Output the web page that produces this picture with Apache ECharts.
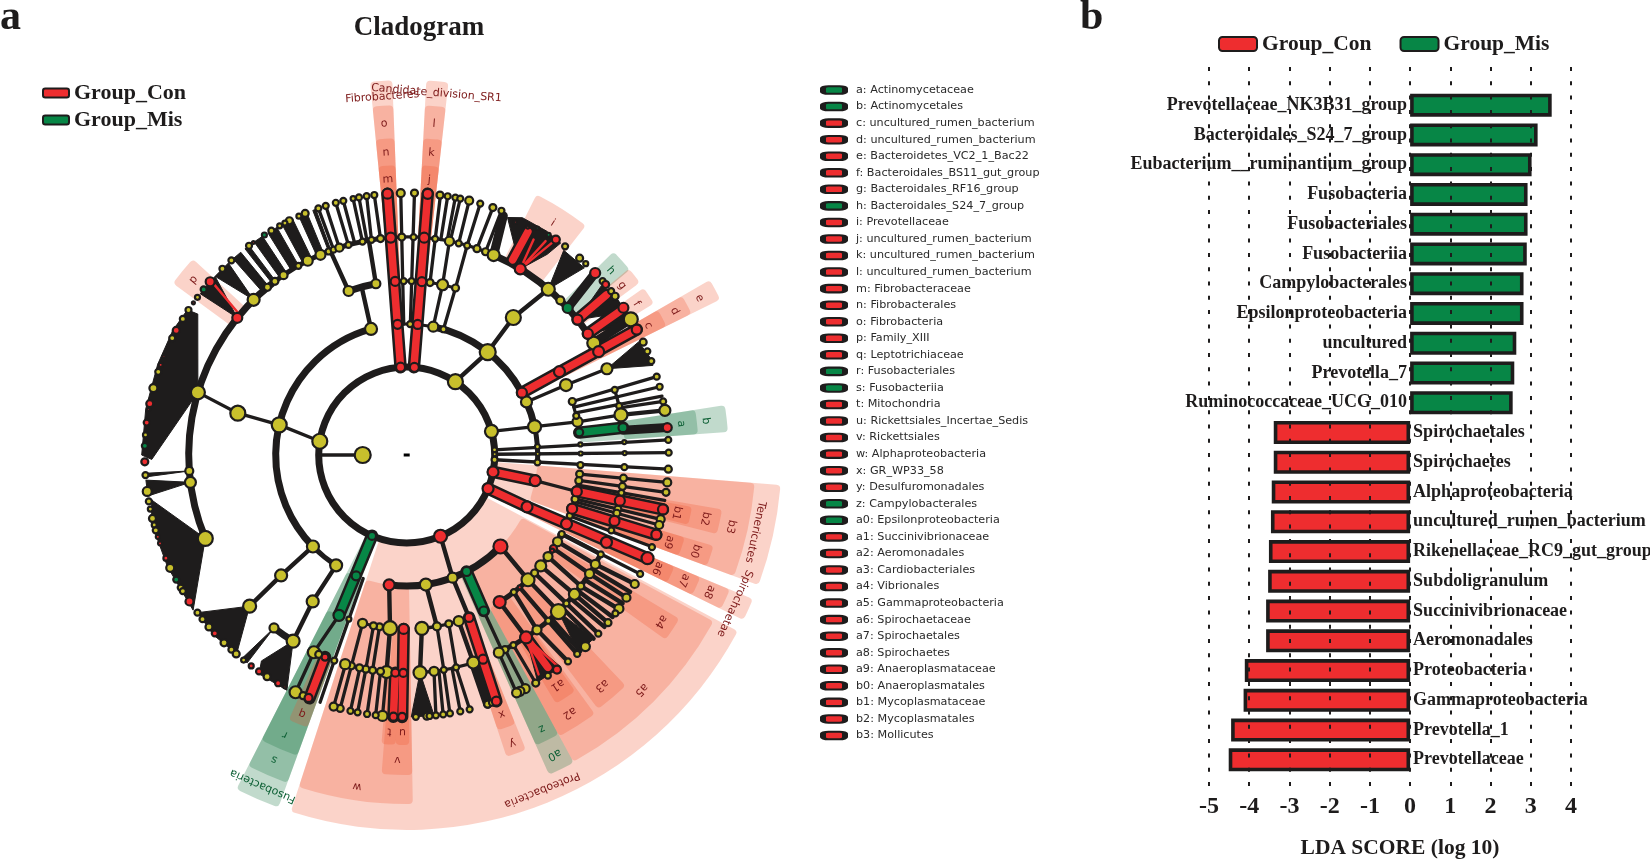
<!DOCTYPE html>
<html><head><meta charset="utf-8">
<style>html,body{margin:0;padding:0;background:#fff}#c{width:1650px;height:860px}</style>
<script src="https://cdn.jsdelivr.net/npm/echarts@6/dist/echarts.min.js"></script>
</head><body><div id="c"></div>
<script>
// ---------- panel b : LDA scores ----------
const misTaxa = ['Prevotellaceae_NK3B31_group','Bacteroidales_S24_7_group','Eubacterium__ruminantium_group','Fusobacteria','Fusobacteriales','Fusobacteriia','Campylobacterales','Epsilonproteobacteria','uncultured','Prevotella_7','Ruminococcaceae_UCG_010'];
const misScores = [3.52,3.17,3.02,2.92,2.92,2.9,2.82,2.82,2.64,2.59,2.55];
const conTaxa = ['Spirochaetales','Spirochaetes','Alphaproteobacteria','uncultured_rumen_bacterium','Rikenellaceae_RC9_gut_group','Subdoligranulum','Succinivibrionaceae','Aeromonadales','Proteobacteria','Gammaproteobacteria','Prevotella_1','Prevotellaceae'];
const conScores = [-3.39,-3.39,-3.44,-3.46,-3.51,-3.53,-3.58,-3.58,-4.11,-4.14,-4.45,-4.51];
const ldaTicks = [-5,-4,-3,-2,-1,0,1,2,3,4];

// ---------- panel a : clade key ----------
const cladeKey = ['a: Actinomycetaceae','b: Actinomycetales','c: uncultured_rumen_bacterium','d: uncultured_rumen_bacterium','e: Bacteroidetes_VC2_1_Bac22','f: Bacteroidales_BS11_gut_group','g: Bacteroidales_RF16_group','h: Bacteroidales_S24_7_group','i: Prevotellaceae','j: uncultured_rumen_bacterium','k: uncultured_rumen_bacterium','l: uncultured_rumen_bacterium','m: Fibrobacteraceae','n: Fibrobacterales','o: Fibrobacteria','p: Family_XIII','q: Leptotrichiaceae','r: Fusobacteriales','s: Fusobacteriia','t: Mitochondria','u: Rickettsiales_Incertae_Sedis','v: Rickettsiales','w: Alphaproteobacteria','x: GR_WP33_58','y: Desulfuromonadales','z: Campylobacterales','a0: Epsilonproteobacteria','a1: Succinivibrionaceae','a2: Aeromonadales','a3: Cardiobacteriales','a4: Vibrionales','a5: Gammaproteobacteria','a6: Spirochaetaceae','a7: Spirochaetales','a8: Spirochaetes','a9: Anaeroplasmataceae','b0: Anaeroplasmatales','b1: Mycoplasmataceae','b2: Mycoplasmatales','b3: Mollicutes'];
const misKeys = ['a','b','h','r','s','z','a0'];

// ---------- panel a : cladogram, all rows in [angle deg, radius] ----------
// wedges: label, angle from, angle to, radius from, radius to, group, label radius
const wedges = [
['Fibrobacteres',92.2,95.6,88,375,'Con',359],['o',92.2,95.6,131,350,'Con',332],['n',92.2,95.6,174,317,'Con',303],['m',92.2,95.6,218,290,'Con',276],
['Candidate_division_SR1',83.6,87,88,375,'Con',363],['l',83.6,87,131,350,'Con',332],['k',83.6,87,174,317,'Con',303],['j',83.6,87,218,290,'Con',276],
['i',52,63.5,218,291,'Con',274],['h',39.7,44.5,218,290,'Mis',275],['g',36.5,40,218,290,'Con',274],['f',31.5,35.2,218,290,'Con',275],
['e',26.4,30,131,350,'Con',332],['d',26.4,30,174,318,'Con',304],['c',26.4,30,218,290,'Con',274],
['a',4.1,8.9,218,292,'Mis',276],['b',4.1,8.9,174,322,'Mis',301],
['Tenericutes',-20.3,-4.6,88,375,'Con',357],['b3',-20.3,-4.6,131,349,'Con',332],['b2',-14.3,-9.8,174,320,'Con',305],['b1',-13.9,-10.3,218,290,'Con',276],['b0',-20.3,-16.5,174,320,'Con',304],['a9',-20.3,-16.5,218,290,'Con',276],
['Spirochaetae',-26.1,-22.6,88,375,'Con',360],['a8',-26.1,-22.6,131,350,'Con',332],['a7',-26.1,-22.6,174,318,'Con',304],['a6',-26.1,-22.6,218,290,'Con',275],
['Proteobacteria',-108,-28,88,375,'Con',361],['a5',-61.5,-28.5,131,349,'Con',332],['w',-108,-89,131,349,'Con',335],['v',-94.5,-89,174,320,'Con',305],['t',-95,-92.2,218,290,'Con',277],['u',-92.2,-89.5,218,290,'Con',277],
['y',-71.7,-68,174,318,'Con',307],['x',-71.7,-68,218,290,'Con',276],['a0',-66,-61.5,131,350,'Mis',334],['z',-66,-61.5,174,318,'Mis',305],
['a2',-61.5,-54,174,320,'Con',305],['a1',-59,-54.5,218,290,'Con',275],['a3',-53,-46.5,174,318,'Con',302],['a4',-35.5,-31,174,318,'Con',304],
['Fusobacteria',-117,-110,88,375,'Mis',361],['s',-117,-110,131,349,'Mis',332],['r',-117,-110,174,320,'Mis',305],['q',-114,-110,218,290,'Con',279],
['p',137.5,143.7,218,290,'Con',276]
];
const arcsThick = [[88,0,360],[131,105.8,224.3],[131,28.4,78.3],[131,12.5,23.9],[131,-97.7,-44.3],[218,128,202.5],[218,28.3,66.5],[218,232.5,238.6],[174,100.2,109.5]];
const arcsMid = [[131,224.3,237.4],[131,-4,12.5],[218,96.9,128],[174,-57.7,-27],[218,-65,-27],[174,-18,-6]];
const arcsThin = [[131,78.3,94],[174,73.7,94],[218,66.5,96.9],[174,7.5,17.9],[218,7.2,17.4],[218,-10,-6],[218,-18,-12],[174,-85,-69],[218,-86.5,-69.5],[174,-104.7,-91],[218,-106.4,-90.9]];
const edgesThin = [[180,44,180,88],[171,88,166.7,131],[15.6,88,12.5,131],[166.7,131,166.1,174],[166.1,174,163.3,218],[23.9,131,23.7,174],[23.7,174,23.3,218],[12.5,131,11,174],
[78.3,131,78.1,174],[78.1,174,78.7,218],[73.7,131,73.7,174],[73.7,174,73.9,218],[3.4,88,3.3,262],[0.5,88,0.5,262],[-3.1,88,-3.1,262],
[17.9,174,17.4,262],[16,174,15.1,262],[14,174,13,262],[11,174,10.6,218],[12.5,218,11.8,262],
[91.3,131,91.3,262],[88.4,131,88.3,262],[82.3,174,82.6,262],[81,218,81,262],[79.3,218,79.3,262],[78.5,218,78.2,262],[76.2,218,76.2,262],[73.9,218,73.7,262],[71.2,218,70.8,262],[68.8,218,68.8,262],
[96.9,218,97.1,262],[99.3,218,98.8,262],[100.5,218,100.5,262],[101.7,218,101.8,262],[103.8,218,104,262],[105.5,218,105.7,262],[108,218,108,262],[109.6,218,109.7,262],
[-11.3,131,-12.1,174],[-6.3,174,-6,262],[-8.4,174,-8.2,262],[-10,174,-10,262],[-14.6,174,-14.2,262],[-15.5,174,-15.5,262],[-20.5,174,-20.5,262],[-27,174,-27,262],
[-109.4,131,-109.4,218],[-109.4,218,-109.3,262],[-112.9,174,-115.2,218],[-115.2,218,-115.1,262],
[-60.7,218,-60.5,262],[-63.2,218,-63.1,262],[-65,218,-65.2,262],[-63.7,174,-64,218],
[-80,174,-80.2,218],[-76,174,-76.9,218],[-76.9,218,-76.1,262],[-78,218,-78.2,262],[-80.2,218,-80.5,262],[-81.5,218,-82,262],[-82.8,218,-83.6,262],
[-104.7,174,-104.7,218],[-101,174,-100.8,218],[-99,174,-99,218],[-106.3,218,-106.2,262],[-104.7,218,-104.7,262],[-102.4,218,-102.4,262],[-100.8,218,-100.8,262],[-98.8,218,-98.7,262],[-96.9,218,-96.8,262],[-95.3,218,-95.3,262]];
const edgesMid = [[56.4,88,51.8,131],[105.8,131,105,174],[109.5,174,110.5,218],[100.2,174,100,218],[224.3,131,223.8,174],[223.8,174,223.9,218],[237.4,131,237.3,174],[237.3,174,238.6,218],[51.8,131,52.2,174],[52.2,174,49.5,218],
[10.6,218,9.8,262],[-67.4,88,-69.5,131],[-69.5,131,-69,174],[-81.6,131,-80,174],[-44.3,131,-45.8,174],[-45.8,174,-45.9,218],[-57.7,174,-56.8,218],[-39.6,174,-39.7,218],[-35.7,174,-37,218],[-32.5,174,-33,218],[-29.9,174,-30.1,218],[-27,174,-27.1,218],[-42.7,174,-42.9,218],[-49.5,174,-49.5,218],[-52,174,-53.3,218],
[-30.1,218,-29.5,262],[-31.6,218,-31.5,262],[-33,218,-33,262],[-35,218,-34.5,262],[-37,218,-36,262],[-38.4,218,-38.2,262],[-39.7,218,-39.8,262],[-41.2,218,-41,262],[-42.9,218,-43,262],[-44.5,218,-44.5,262],[-48.5,218,-48.5,262],[-49.5,218,-49.4,262],[-53.3,218,-52,262],
[-85,174,-86.5,218],[-72.6,174,-72.2,218],[-97.7,131,-95.5,174],[-95.5,174,-95.3,218]];
const edgesWide = [[66.5,218,68,258],[-72.2,218,-72,262],[6.5,218,6,262],[42.4,218,44,262],[31,218,31.2,262]];
const fans = [
[[163.3,218],[146,252],[146.5,263],[152,265],[160,265],[170,265],[180,265],[181,255]],
[[202.5,218],[190,259],[195,264],[205,264],[216,264]],
[[223.9,218],[217,262],[223,264],[229.5,262]],
[[238.6,218],[234.8,252],[236,264],[243,264]],
[[232.5,218],[231,262],[232.5,262]],
[[184.2,218],[184,262],[184.8,262]],
[[187.2,218],[185.5,262],[189,262]],
[[134.6,218],[132.9,262],[137,262]],
[[141,218],[137,262],[142,262]],
[[129.3,218],[131.5,218],[131.5,262],[129.3,262]],
[[127,218],[128.1,218],[128.1,262],[127,262]],
[[123.4,218],[125.6,218],[125.6,262],[123.4,262]],
[[119.7,218],[122,218],[122,262],[119.7,262]],
[[115.8,218],[118.4,218],[118.4,262],[115.8,262]],
[[112.4,218],[114.3,218],[114.3,262],[112.4,262]],
[[110.3,218],[111,218],[111,262],[110.3,262]],
[[58.6,218],[67,258],[64,264],[58,264],[54,262],[55,245]],
[[49.5,218],[52.5,258],[46.5,258]],
[[23.3,218],[26,258],[22,262],[20,262]],
[[-86.5,218],[-89,262],[-84,262]],
[[-56.8,218],[-54,262],[-60,262]],
[[-45.9,218],[-44.5,262],[-49,262]],
[[38.4,218],[41,258],[36.5,262],[33,262]],
[[33.8,218],[37,262],[30,262]]
];
const conBars = [[94,88,94.2,262],[85.3,88,85.4,262],[28.4,131,28.6,262],[38.4,218,38.7,256],[33.8,218,34,258],[61.5,222,61.5,254],[-11.1,88,-11.3,131],[-12.1,174,-12,262],[-18,174,-17.7,262],[-22.4,88,-23.3,131],[-23.3,131,-23.2,262],[-69,174,-70,262],[-91,174,-91,262],[-93,218,-92.9,262],[-112,218,-111.8,262],[-56.8,222,-56.4,255]];
const misBars = [[7.4,174,7.2,218],[-62.8,131,-63.7,174],[-113.2,88,-112.9,174]];
const conThinBars = [[139.8,222,138.5,256],[58.6,218,55.3,262],[58.6,218,57,255],[58.6,218,59.5,250],[-56.8,218,-54.5,258],[-56.8,218,-59,256]];
const yellowNodes = [[180,44,16],[171,88,15],[56.4,88,15],[15.6,88,13],[3.4,88,5],[0.5,88,4],[-3.1,88,6],
[166.7,131,15],[105.8,131,12],[224.3,131,12],[237.4,131,12],[51.8,131,16],[78.3,131,10],[73.7,131,6],[88.5,131,6],[23.9,131,11],[12.5,131,13],[3.6,131,5],[0.5,131,4],[-3.2,131,6],[-69.5,131,10],[-81.6,131,12],
[166.1,174,15],[109.5,174,10],[100.2,174,9],[223.8,174,12],[237.3,174,12],[52.2,174,15],[78.1,174,11],[73.7,174,7],[82.3,174,7],[88.4,174,6],[91,174,6],[23.7,174,12],[11,174,10],[17.9,174,7],[13,174,6],[3.5,174,4],[0.5,174,4],[-3.3,174,6],[-6.3,174,7],[-8.5,174,7],[-14.7,174,7],[-20.4,174,6],[-27.4,174,6],
[-45.8,174,13],[-39.6,174,11],[-35.7,174,9],[-29.9,174,9],[-27,174,6],[-52,174,6],[-42.7,174,7],[-85,174,13],[-80,174,8],[-76,174,7],[-72.6,174,10],[-95.5,174,14],[-99,174,7],[-101,174,7],[-104.7,174,9],[-109.4,174,5],
[163.3,218,14],[134.6,218,12],[129.7,218,7],[127.2,218,7],[124.4,218,8],[119.8,218,6],[117,218,10],[113.3,218,10],[111,218,6],[109.6,218,6],[108,218,8],[105.5,218,6],[101.7,218,6],[99.3,218,6],[96.9,218,7],[91.3,218,7],[88.2,218,6],[82.5,218,6],[78.7,218,9],[76.2,218,6],[73.9,218,6],[71.2,218,7],[68.8,218,7],[66.5,218,12],[49.5,218,13],[45.2,218,8],[30.9,218,13],[23.3,218,11],
[202.5,218,15],[187.2,218,11],[184.2,218,8],[223.9,218,13],[238.6,218,13],[232.5,218,9],[17.4,218,6],[13,218,6],[10.6,218,13],[3.4,218,4],[0.5,218,4],[-3.2,218,6],[-6.1,218,7],[-8.3,218,7],[-10,218,6],[-14.4,218,7],[-15.5,218,7],[-20.2,218,6],
[-27.1,218,6],[-30.1,218,9],[-33,218,9],[-37,218,7],[-39.7,218,11],[-42.9,218,6],[-45.9,218,15],[-49.5,218,6],[-53.3,218,9],[-60.7,218,6],[-63.2,218,7],[-65,218,10],[-72.2,218,12],[-76.9,218,6],[-80.2,218,6],[-82.8,218,9],[-86.5,218,13],
[-95.3,218,12],[-96.9,218,7],[-99,218,7],[-100.8,218,7],[-102.5,218,7],[-104.7,218,7],[-106.4,218,10],[-115.2,218,12],[-113.8,218,7],[-109.4,218,6],
[91.3,262,8],[97.1,262,6],[98.8,262,6],[100.5,262,6],[101.8,262,5],[104,262,6],[105.7,262,6],[108,262,6],[109.7,262,6],[112.8,262,7],[114.3,262,5],[116.6,262,7],[117.7,262,5],[119,262,5],[121.1,262,6],[127,262,6],[132,262,6],[134.7,262,6],[143,262,5],[146.4,262,6],[148.7,262,6],[153.5,262,6],[161.5,262,6],[165.2,262,8],[175.6,262,5],
[184.4,262,6],[188,262,9],[190.2,262,6],[191.9,262,5],[194,262,7],[195.5,262,5],[196.7,262,6],[205.5,262,8],[210.4,262,6],[211.3,262,6],[217,262,6],[218.8,262,6],[221,262,7],[225.8,262,7],[228,262,6],[229.4,262,7],[231.5,262,5],[237.8,262,7],
[244.9,262,12],[246.7,262,7],
[88.3,262,7],[82.7,262,7],[81,262,6],[79.3,262,6],[78.2,262,6],[76.2,262,8],[73.7,262,6],[70.8,262,7],[68.8,262,6],[52.8,262,6],[48.7,262,7],[46.9,262,5],[41.6,262,6],[38.7,262,6],[37.3,262,7],[31.2,262,14],[25.5,262,7],[23.3,262,6],[21,262,6],
[17.4,262,6],[15.1,262,6],[11.8,262,6],[9.8,262,11],[3.3,262,6],[0.5,262,6],[-3.1,262,7],[-6,262,8],[-8.2,262,7],[-14.2,262,8],[-15.5,262,8],[-20.6,262,6],
[-27,262,6],[-29.5,262,8],[-33,262,8],[-35.9,262,9],[-37.2,262,6],[-39.8,262,7],[-43,262,6],[-47,262,9],[-49.4,262,6],[-52,262,6],[-57.4,262,6],[-60.5,262,7],[-63.1,262,9],[-64.4,262,9],[-65.2,262,9],[-72,262,7],[-71,262,6],[-76.1,262,6],[-78.2,262,6],[-80.5,262,6],[-82,262,6],[-83.6,262,6],[-85.6,262,7],[-85,262,6],[-88,262,6],
[-95.3,262,10],[-96.8,262,6],[-98.7,262,6],[-100.8,262,6],[-102.4,262,6],[-104.7,262,7],[-106.2,262,8]];
const redNodes = [[94,88,9],[85,88,9],[-11.1,88,11],[-22.4,88,11],[-67.4,88,13],[94,131,9],[85.2,131,9],[28.4,131,10],[-11.3,131,11],[-23.3,131,11],[-44.3,131,14],[-97.7,131,11],
[93.8,174,9],[85,174,9],[28.6,174,11],[-12.1,174,10],[-18,174,10],[-23.3,174,11],[-57.7,174,12],[-32.5,174,7],[-49.5,174,4],[-69,174,9],[-91,174,10],[-33.3,174,4],
[94.2,218,10],[85.4,218,10],[58.6,218,11],[38.4,218,10],[33.8,218,10],[28.3,218,11],[141,218,10],[-12.1,218,10],[-17.6,218,10],[-23.6,218,11],[-56.8,218,12],[-69.5,218,9],[-93,218,8],[-90.9,218,8],[-112,218,7],
[94.2,262,10],[85.4,262,10],[138.6,262,9],[125.8,262,3],[144.5,262,3],[151.6,262,7],[157.9,262,3],[159.9,262,4],[168.7,262,7],[170,262,3],[172.9,262,6],[181.5,262,7],[198.2,262,4],[199.7,262,4],[203.2,262,5],[214,262,8],[222.9,262,6],[233.6,262,5],[235.7,262,6],[240.6,262,6],[242.3,262,3],[248,262,8],
[55.3,262,8],[44,262,10],[40.6,262,7],[34.2,262,10],[28.6,262,10],[65,257,3],[62,258,3],[6,262,9],[-12,262,10],[-17.7,262,10],[-23.2,262,12],[-55,262,8],[-70,262,9],[-92.9,262,8],[-91,262,8]];
const greenNodes = [[-113.2,88,8],[-62.8,131,9],[-112.7,131,9],[7.5,174,8],[-63.7,174,9],[-112.9,174,11],[7.2,218,9],[42.4,218,10],[122.9,262,5],[140.8,262,6],[178,262,6],[208.4,262,6],[57.2,262,4],[60,262,3]];
const cladogramCentre = [406.7, 455];

// ---------- helpers ----------
const SERIF = '"Liberation Serif", serif';
const INK = '#1e1c1c';
const polarPt = (api, a, r) => api.coord([r, ((a % 360) + 360) % 360]);
function strokeSeries(name, rows, width, color, z) {
  return { type:'custom', name, coordinateSystem:'polar', polarIndex:0, silent:true, z, clip:false, data:rows,
    renderItem(p, api){
      const a = polarPt(api, api.value(0), api.value(1)), b = polarPt(api, api.value(2), api.value(3));
      return { type:'line', shape:{x1:a[0],y1:a[1],x2:b[0],y2:b[1]}, style:{stroke:color,lineWidth:width,lineCap:'round',fill:null} };
    }};
}
function arcSeries(name, rows, width, z) {
  return { type:'custom', name, coordinateSystem:'polar', polarIndex:0, silent:true, z, clip:false, data:rows,
    renderItem(p, api){
      const c = api.coord([0,0]), q = polarPt(api, 0, api.value(0));
      return { type:'arc', shape:{cx:c[0],cy:c[1],r:Math.abs(q[0]-c[0]),startAngle:-api.value(2)*Math.PI/180,endAngle:-api.value(1)*Math.PI/180,clockwise:true},
        style:{stroke:INK,lineWidth:width,fill:null} };
    }};
}
function nodeSeries(name, rows, color) {
  return { type:'scatter', name, coordinateSystem:'polar', polarIndex:0, silent:true, z:6, clip:false,
    data: rows.map(n => [n[1], ((n[0]%360)+360)%360, n[2]]), symbolSize: v => v[2],
    itemStyle:{color, borderColor:INK, borderWidth:2.2, opacity:1} };
}
const wedgeFill = { Con:'rgba(240,85,45,0.26)', Mis:'rgba(25,120,65,0.27)' };
const textFill  = { Con:'#7d1a1a', Mis:'#0c5f34' };

const categories = misTaxa.concat(conTaxa);
const misData = categories.map((t,i) => i < misScores.length ? misScores[i] : null);
const conData = categories.map((t,i) => i >= misScores.length ? conScores[i-misScores.length] : null);

const option = {
  animation:false, backgroundColor:'#fff',
  title:[
    {text:'Cladogram',left:414,top:10,textAlign:'center',textStyle:{fontFamily:SERIF,fontSize:27,fontWeight:'bold',color:INK}},
    {text:'a',left:-5,top:-8,textStyle:{fontFamily:SERIF,fontSize:42,fontWeight:'bold',color:INK}},
    {text:'b',left:1075,top:-8,textStyle:{fontFamily:SERIF,fontSize:42,fontWeight:'bold',color:INK}}
  ],
  legend:[
    {data:['Group_Con','Group_Mis'],orient:'vertical',left:37,top:77,itemWidth:26,itemHeight:9,itemGap:5,textStyle:{fontFamily:SERIF,fontSize:22,fontWeight:'bold',color:INK}},
    {data:['Group_Con','Group_Mis'],orient:'horizontal',left:1213,top:28,itemWidth:38,itemHeight:14,itemGap:28,textStyle:{fontFamily:SERIF,fontSize:21.5,fontWeight:'bold',color:INK}}
  ],
  polar:[{center:cladogramCentre,radius:400}],
  angleAxis:[{polarIndex:0,type:'value',min:0,max:360,startAngle:0,clockwise:false,show:false}],
  radiusAxis:[{polarIndex:0,type:'value',min:0,max:400,show:false}],
  grid:[
    {left:1209,width:362,top:67,height:723,outerBoundsMode:'none'},
    {left:1209,width:362,top:90.3,height:684.4,outerBoundsMode:'none'},
    {left:834,width:200,top:81.75,height:662,outerBoundsMode:'none'}
  ],
  xAxis:[
    {gridIndex:0,type:'value',min:-5,max:4,interval:1,z:10,
     name:'LDA SCORE (log 10)',nameLocation:'middle',nameGap:47.5,
     nameTextStyle:{fontFamily:SERIF,fontSize:21.5,fontWeight:'bold',color:INK,padding:[0,0,0,20]},
     axisLine:{show:false},axisTick:{show:false},
     axisLabel:{fontFamily:SERIF,fontSize:24,fontWeight:'bold',color:INK,margin:5,formatter:v=>ldaTicks.includes(v)?String(v):''},
     splitLine:{show:true,lineStyle:{color:INK,width:2,type:[4,10.3]}}},
    {gridIndex:1,type:'value',min:-5,max:4,interval:1,show:false},
    {gridIndex:2,type:'value',min:0,max:1,show:false}
  ],
  yAxis:[
    {gridIndex:0,type:'value',min:0,max:1,show:false},
    {gridIndex:1,type:'category',data:categories,inverse:true,show:false},
    {gridIndex:2,type:'category',data:cladeKey,inverse:true,show:false}
  ],
  series:[
    {type:'bar',name:'Group_Mis',xAxisIndex:1,yAxisIndex:1,data:misData,barWidth:23,barGap:'-100%',z:2,
     itemStyle:{color:'#078646',borderColor:INK,borderWidth:3.6},
     label:{show:true,position:'left',distance:3,formatter:p=>p.name,fontFamily:SERIF,fontSize:18,fontWeight:'bold',color:INK}},
    {type:'bar',name:'Group_Con',xAxisIndex:1,yAxisIndex:1,data:conData,barWidth:23,barGap:'-100%',z:2,
     itemStyle:{color:'#ee2d2f',borderColor:INK,borderWidth:3.6},
     label:{show:true,position:'right',distance:3,formatter:p=>p.name,fontFamily:SERIF,fontSize:18,fontWeight:'bold',color:INK}},
    {type:'scatter',name:'clade key',xAxisIndex:2,yAxisIndex:2,silent:true,symbol:'roundRect',symbolSize:[22,7.5],
     data:cladeKey.map((k,i)=>({value:[0,i],name:k,itemStyle:{color:misKeys.includes(k.split(':')[0])?'#078646':'#ee2d2f'}})),
     itemStyle:{borderColor:INK,borderWidth:3.5,opacity:1},
     label:{show:true,position:'right',distance:8,formatter:p=>p.name,fontFamily:'"DejaVu Sans"',fontSize:11.2,color:'#2a2a2a'}},
    {type:'custom',name:'clade wedges',coordinateSystem:'polar',polarIndex:0,silent:true,z:1,clip:false,data:wedges.map(w=>w.slice(1,5)),
     renderItem(p,api){
       const w=wedges[p.dataIndex], c=api.coord([0,0]), o=polarPt(api,0,w[4]), i=polarPt(api,0,w[3]);
       return {type:'sector',shape:{cx:c[0],cy:c[1],r:o[0]-c[0],r0:i[0]-c[0],startAngle:-w[2]*Math.PI/180,endAngle:-w[1]*Math.PI/180,clockwise:true,cornerRadius:4},
         style:{fill:wedgeFill[w[5]]}};
     }},
    arcSeries('arcs thick',arcsThick,7,3),arcSeries('arcs mid',arcsMid,5,3),arcSeries('arcs thin',arcsThin,3.2,3),
    {type:'custom',name:'fans',coordinateSystem:'polar',polarIndex:0,silent:true,z:3,clip:false,data:fans.map((f,i)=>[i]),
     renderItem(p,api){
       return {type:'polygon',shape:{points:fans[p.dataIndex].map(q=>polarPt(api,q[0],q[1]))},style:{fill:INK,stroke:INK,lineWidth:1}};
     }},
    strokeSeries('edges thin',edgesThin,3.3,INK,3),strokeSeries('edges mid',edgesMid,4.4,INK,3),strokeSeries('edges wide',edgesWide,9,INK,3),
    strokeSeries('con bars frame',conBars,12.5,INK,4),strokeSeries('mis bars frame',misBars,12.5,INK,4),
    strokeSeries('con bars',conBars,7.5,'#ee2d2f',5),strokeSeries('mis bars',misBars,7.5,'#078646',5),
    strokeSeries('con thin bars',conThinBars,2.4,'#ee2d2f',5),
    nodeSeries('yellow nodes',yellowNodes,'#c8c02c'),nodeSeries('red nodes',redNodes,'#ee2d2f'),nodeSeries('green nodes',greenNodes,'#078646'),
    {type:'custom',name:'clade labels',coordinateSystem:'polar',polarIndex:0,silent:true,z:7,clip:false,data:wedges.map(w=>w.slice(1,5)),
     renderItem(p,api){
       const w=wedges[p.dataIndex], a=(w[1]+w[2])/2, q=polarPt(api,a,w[6]);
       return {type:'text',x:q[0],y:q[1],rotation:(a-90)*Math.PI/180,
         style:{text:w[0],fill:textFill[w[5]],font:'11px "DejaVu Sans"',align:'center',verticalAlign:'middle'}};
     }},
    {type:'custom',name:'origin',coordinateSystem:'polar',polarIndex:0,silent:true,z:3,clip:false,data:[[0,0]],
     renderItem(p,api){ const c=api.coord([0,0]); return {type:'rect',shape:{x:c[0]-3,y:c[1]-1.5,width:6,height:3},style:{fill:'#000'}}; }}
  ]
};
echarts.init(document.getElementById('c'),null,{renderer:'canvas'}).setOption(option);
</script></body></html>
